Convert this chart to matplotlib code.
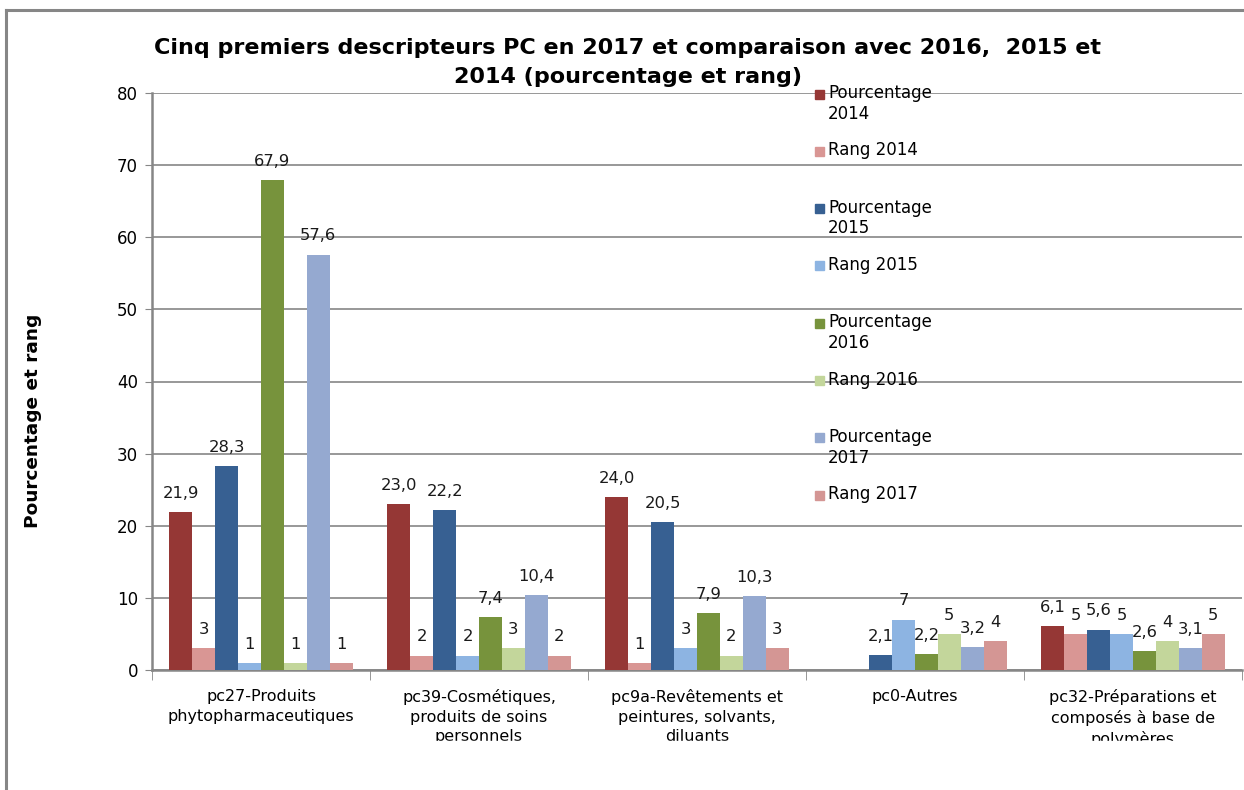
import matplotlib
matplotlib.use("Agg")
import matplotlib.pyplot as plt
from matplotlib.patches import Rectangle
from matplotlib.lines import Line2D
import numpy as np

# categories (wrapped as in the source chart)
categories = [
    "pc27-Produits\nphytopharmaceutiques",
    "pc39-Cosmétiques,\nproduits de soins\npersonnels",
    "pc9a-Revêtements et\npeintures, solvants,\ndiluants",
    "pc0-Autres",
    "pc32-Préparations et\ncomposés à base de\npolymères",
]

nan = np.nan
pct_2014 = [21.9, 23.0, 24.0, nan, 6.1]
rang_2014 = [3, 2, 1, nan, 5]
pct_2015 = [28.3, 22.2, 20.5, 2.1, 5.6]
rang_2015 = [1, 2, 3, 7, 5]
pct_2016 = [67.9, 7.4, 7.9, 2.2, 2.6]
rang_2016 = [1, 3, 2, 5, 4]
pct_2017 = [57.6, 10.4, 10.3, 3.2, 3.1]
rang_2017 = [1, 2, 3, 4, 5]

series_names = ["Pourcentage\n2014", "Rang 2014", "Pourcentage\n2015", "Rang 2015",
                "Pourcentage\n2016", "Rang 2016", "Pourcentage\n2017", "Rang 2017"]
series_values = [pct_2014, rang_2014, pct_2015, rang_2015,
                 pct_2016, rang_2016, pct_2017, rang_2017]
is_pct = [True, False, True, False, True, False, True, False]
colors = ["#953735", "#D99694", "#376092", "#8DB4E2",
          "#77933C", "#C3D69B", "#95A9D0", "#D49694"]

grey = "#868686"

fig = plt.figure(figsize=(12.44, 7.9), dpi=100)
W, H = 1244, 790
ax = fig.add_axes([152 / W, 1 - 670 / H, (1242 - 152) / W, (670 - 93) / H])

x = np.arange(len(categories))
w = 1 / 9.5
for i, (vals, col) in enumerate(zip(series_values, colors)):
    bars = ax.bar(x + (i - 3.5) * w, vals, width=w, color=col, zorder=3)
    if is_pct[i]:
        labels = ["" if np.isnan(v) else f"{v:.1f}".replace(".", ",") for v in vals]
    else:
        labels = ["" if np.isnan(v) else f"{int(v)}" for v in vals]
    ax.bar_label(bars, labels=labels, padding=8, fontsize=11.8, color="#1a1a1a")

ax.set_ylim(0, 80)
ax.set_xlim(-0.5, len(categories) - 0.5)
ax.set_yticks(np.arange(0, 81, 10))
ax.yaxis.grid(True, color=grey, linewidth=1.2, zorder=0)
ax.tick_params(axis="y", labelsize=12, length=5, color=grey, pad=5)

ax.set_xticks(x)
ax.set_xticklabels(categories, fontsize=11.5, linespacing=1.35)
ax.set_xticks(np.arange(-0.5, len(categories)), minor=True)
ax.tick_params(axis="x", which="major", length=0, pad=14)
ax.tick_params(axis="x", which="minor", length=7, color=grey)

for s in ["top", "right"]:
    ax.spines[s].set_visible(False)
for s in ["left", "bottom"]:
    ax.spines[s].set_color(grey)
    ax.spines[s].set_linewidth(1.8)

ax.set_ylabel("Pourcentage et rang", fontsize=13.3, fontweight="bold", labelpad=0)
ax.yaxis.set_label_coords(42 / W, 1 - 421 / H, transform=fig.transFigure)

fig.text(628 / W, 1 - 48 / H, "Cinq premiers descripteurs PC en 2017 et comparaison avec 2016,  2015 et",
         ha="center", va="center", fontsize=16, fontweight="bold")
fig.text(628 / W, 1 - 77 / H, "2014 (pourcentage et rang)",
         ha="center", va="center", fontsize=16, fontweight="bold")

# legend drawn entry by entry, first line aligned with marker
for i, (name, col) in enumerate(zip(series_names, colors)):
    yc = 94 + i * 57.3
    fig.patches.append(Rectangle((815 / W, 1 - (yc + 4.5) / H), 9 / W, 9 / H,
                                 transform=fig.transFigure, color=col, zorder=5))
    fig.text(828 / W, 1 - (yc - 10) / H, name, ha="left", va="top",
             fontsize=12, linespacing=1.2, zorder=5)

# clip category labels at the chart area bottom, plus chart frame
fig.patches.append(Rectangle((8 / W, 0), 1, (H - 741) / H, transform=fig.transFigure,
                             color="white", zorder=10))
fig.add_artist(Line2D([6 / W, 6 / W], [0, 1 - 10 / H], color=grey, linewidth=2.2, zorder=11))
fig.add_artist(Line2D([6 / W, 1], [1 - 10 / H, 1 - 10 / H], color=grey, linewidth=2.2, zorder=11))

fig.savefig("out.png", dpi=100)
